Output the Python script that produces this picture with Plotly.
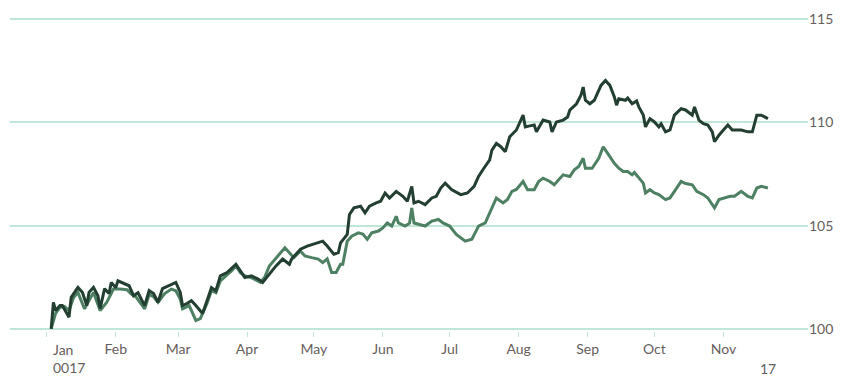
import plotly.graph_objects as go

# Index series (rebased to 100 at start of year)
dates_a = [
    "2017-01-03", "2017-01-04", "2017-01-05", "2017-01-07", "2017-01-08", "2017-01-11", "2017-01-12",
    "2017-01-15", "2017-01-17", "2017-01-19", "2017-01-20", "2017-01-22", "2017-01-24", "2017-01-25",
    "2017-01-27", "2017-01-29", "2017-01-30", "2017-02-01", "2017-02-02", "2017-02-05", "2017-02-07",
    "2017-02-09", "2017-02-11", "2017-02-14", "2017-02-16", "2017-02-18", "2017-02-20", "2017-02-22",
    "2017-02-25", "2017-02-28", "2017-03-02", "2017-03-03", "2017-03-05", "2017-03-07", "2017-03-09",
    "2017-03-12", "2017-03-14", "2017-03-16", "2017-03-18", "2017-03-20", "2017-03-23", "2017-03-27",
    "2017-03-29", "2017-03-31", "2017-04-03", "2017-04-06", "2017-04-08", "2017-04-11", "2017-04-14",
    "2017-04-17", "2017-04-20", "2017-04-21", "2017-04-25", "2017-04-28", "2017-05-01", "2017-05-05",
    "2017-05-07", "2017-05-10", "2017-05-12", "2017-05-13", "2017-05-16", "2017-05-17", "2017-05-19",
    "2017-05-22", "2017-05-24", "2017-05-26", "2017-05-29", "2017-05-31", "2017-06-02", "2017-06-04",
    "2017-06-07", "2017-06-10", "2017-06-12", "2017-06-14", "2017-06-15", "2017-06-17", "2017-06-20",
    "2017-06-23", "2017-06-25", "2017-06-27", "2017-06-29", "2017-07-02", "2017-07-06", "2017-07-09",
    "2017-07-12", "2017-07-14", "2017-07-16", "2017-07-19", "2017-07-20", "2017-07-22", "2017-07-24",
    "2017-07-26", "2017-07-28", "2017-07-31", "2017-08-03", "2017-08-04", "2017-08-06", "2017-08-08",
    "2017-08-09", "2017-08-12", "2017-08-15", "2017-08-16", "2017-08-18", "2017-08-21", "2017-08-23",
    "2017-08-24", "2017-08-27", "2017-08-29", "2017-08-30", "2017-08-31", "2017-09-02", "2017-09-04",
    "2017-09-07", "2017-09-09", "2017-09-11", "2017-09-13", "2017-09-14", "2017-09-15", "2017-09-18",
    "2017-09-19", "2017-09-21", "2017-09-23", "2017-09-24", "2017-09-26", "2017-09-27", "2017-09-29",
    "2017-10-01", "2017-10-03", "2017-10-04", "2017-10-06", "2017-10-08", "2017-10-10", "2017-10-13",
    "2017-10-15", "2017-10-18", "2017-10-19", "2017-10-21", "2017-10-23", "2017-10-25", "2017-10-27",
    "2017-10-28", "2017-10-30", "2017-11-01", "2017-11-03", "2017-11-05", "2017-11-09", "2017-11-12",
    "2017-11-14", "2017-11-16", "2017-11-18", "2017-11-21",
]
values_a = [
    100.00, 101.29, 100.89, 101.13, 101.13, 100.57, 101.53,
    102.01, 101.77, 101.13, 101.77, 102.01, 101.61, 100.99,
    101.95, 101.71, 102.25, 102.00, 102.33, 102.19, 102.09,
    101.61, 101.75, 101.13, 101.85, 101.71, 101.29, 101.95,
    102.09, 102.25, 101.77, 101.13, 101.23, 101.37, 101.13,
    100.75, 101.37, 102.00, 101.85, 102.57, 102.73, 103.13,
    102.81, 102.49, 102.57, 102.41, 102.25, 102.65, 103.05,
    103.38, 103.13, 103.38, 103.86, 104.01, 104.10, 104.25,
    104.01, 103.62, 103.69, 104.17, 104.58, 105.54, 105.86,
    105.94, 105.62, 105.94, 106.10, 106.18, 106.58, 106.34,
    106.66, 106.42, 106.18, 106.90, 106.10, 106.18, 106.02,
    106.34, 106.42, 106.82, 107.06, 106.74, 106.50, 106.58,
    106.90, 107.38, 107.72, 108.18, 108.66, 108.98, 108.82,
    108.58, 109.30, 109.63, 110.35, 109.78, 109.83, 109.87,
    109.54, 110.11, 110.02, 109.54, 110.02, 110.11, 110.26,
    110.59, 110.90, 111.31, 111.71, 111.07, 110.90, 111.07,
    111.79, 112.03, 111.79, 111.23, 110.83, 111.14, 111.07,
    111.18, 110.90, 111.03, 110.75, 110.35, 109.78, 110.18,
    110.02, 109.78, 109.93, 109.54, 109.63, 110.35, 110.66,
    110.60, 110.35, 110.75, 110.11, 109.94, 109.87, 109.54,
    109.06, 109.38, 109.63, 109.87, 109.63, 109.63, 109.54,
    109.54, 110.35, 110.35, 110.18,
]

dates_b = [
    "2017-01-03", "2017-01-05", "2017-01-07", "2017-01-09", "2017-01-11", "2017-01-13", "2017-01-15",
    "2017-01-18", "2017-01-22", "2017-01-25", "2017-01-28", "2017-01-31", "2017-02-03", "2017-02-06",
    "2017-02-08", "2017-02-10", "2017-02-14", "2017-02-16", "2017-02-18", "2017-02-20", "2017-02-23",
    "2017-02-26", "2017-02-28", "2017-03-02", "2017-03-03", "2017-03-06", "2017-03-09", "2017-03-11",
    "2017-03-14", "2017-03-16", "2017-03-18", "2017-03-20", "2017-03-23", "2017-03-25", "2017-03-27",
    "2017-03-29", "2017-03-31", "2017-04-03", "2017-04-07", "2017-04-09", "2017-04-11", "2017-04-14",
    "2017-04-18", "2017-04-20", "2017-04-22", "2017-04-25", "2017-04-27", "2017-04-30", "2017-05-03",
    "2017-05-05", "2017-05-07", "2017-05-09", "2017-05-11", "2017-05-13", "2017-05-14", "2017-05-15",
    "2017-05-16", "2017-05-18", "2017-05-21", "2017-05-23", "2017-05-25", "2017-05-27", "2017-05-30",
    "2017-06-01", "2017-06-03", "2017-06-05", "2017-06-07", "2017-06-08", "2017-06-11", "2017-06-13",
    "2017-06-14", "2017-06-15", "2017-06-18", "2017-06-20", "2017-06-23", "2017-06-26", "2017-06-28",
    "2017-07-01", "2017-07-04", "2017-07-08", "2017-07-11", "2017-07-12", "2017-07-14", "2017-07-17",
    "2017-07-19", "2017-07-20", "2017-07-22", "2017-07-25", "2017-07-27", "2017-07-29", "2017-07-31",
    "2017-08-03", "2017-08-05", "2017-08-08", "2017-08-10", "2017-08-12", "2017-08-15", "2017-08-17",
    "2017-08-19", "2017-08-21", "2017-08-24", "2017-08-26", "2017-08-28", "2017-08-30", "2017-08-31",
    "2017-09-03", "2017-09-06", "2017-09-08", "2017-09-10", "2017-09-13", "2017-09-15", "2017-09-17",
    "2017-09-19", "2017-09-21", "2017-09-22", "2017-09-24", "2017-09-26", "2017-09-27", "2017-09-29",
    "2017-10-01", "2017-10-03", "2017-10-06", "2017-10-08", "2017-10-10", "2017-10-13", "2017-10-15",
    "2017-10-18", "2017-10-20", "2017-10-23", "2017-10-25", "2017-10-28", "2017-10-30", "2017-11-02",
    "2017-11-04", "2017-11-06", "2017-11-09", "2017-11-12", "2017-11-14", "2017-11-16", "2017-11-18",
    "2017-11-21",
]
values_b = [
    100.02, 100.75, 101.05, 101.08, 100.89, 101.51, 101.77,
    100.97, 101.77, 100.89, 101.29, 101.93, 101.93, 101.90,
    101.69, 101.56, 100.97, 101.66, 101.56, 101.29, 101.71,
    101.93, 101.85, 101.45, 100.97, 101.13, 100.41, 100.50,
    101.23, 101.85, 101.75, 102.33, 102.62, 102.81, 103.05,
    102.72, 102.57, 102.48, 102.25, 102.52, 103.05, 103.45,
    103.93, 103.69, 103.45, 103.77, 103.53, 103.45, 103.38,
    103.21, 103.39, 102.73, 102.73, 103.13, 103.13, 103.69,
    104.25, 104.49, 104.65, 104.59, 104.34, 104.65, 104.74,
    104.89, 105.13, 104.98, 105.45, 105.13, 104.98, 105.12,
    105.86, 105.13, 105.06, 104.98, 105.22, 105.30, 105.13,
    104.98, 104.58, 104.25, 104.34, 104.58, 104.98, 105.13,
    105.62, 105.94, 106.34, 106.10, 106.27, 106.66, 106.75,
    107.14, 106.74, 106.74, 107.14, 107.30, 107.14, 106.98,
    107.24, 107.46, 107.38, 107.70, 107.86, 108.26, 107.78,
    107.78, 108.26, 108.82, 108.50, 108.02, 107.78, 107.62,
    107.62, 107.46, 107.57, 107.30, 107.06, 106.58, 106.74,
    106.58, 106.50, 106.26, 106.34, 106.66, 107.14, 107.04,
    106.98, 106.66, 106.50, 106.34, 105.86, 106.26, 106.34,
    106.42, 106.42, 106.66, 106.42, 106.34, 106.82, 106.90,
    106.82,
]

month_ticks = ["2017-01-01", "2017-02-01", "2017-03-01", "2017-04-01", "2017-05-01", "2017-06-01",
               "2017-07-01", "2017-08-01", "2017-09-01", "2017-10-01", "2017-11-01"]
month_labels = ["", "Feb", "Mar", "Apr", "May", "Jun", "Jul", "Aug", "Sep", "Oct", "Nov"]
y_ticks = [100, 105, 110, 115]

DARK = "#223f31"
LIGHT = "#4e8163"
GRID = "#bfe6d6"
TEXT = "#66605c"
FONT = "Lato"

fig = go.Figure()
fig.add_trace(go.Scatter(x=dates_b, y=values_b, mode="lines",
                         line=dict(color=LIGHT, width=3), showlegend=False))
fig.add_trace(go.Scatter(x=dates_a, y=values_a, mode="lines",
                         line=dict(color=DARK, width=3), showlegend=False))

fig.update_layout(
    width=843, height=376,
    margin=dict(l=10, r=31, t=15, b=45),
    paper_bgcolor="white", plot_bgcolor="white",
    font=dict(family=FONT, size=14, color=TEXT),
    xaxis=dict(
        type="date",
        range=["2016-12-15 12:00", "2017-12-09"],
        tickvals=month_ticks, ticktext=month_labels,
        showgrid=False, zeroline=False, showline=False,
        ticks="outside", ticklen=5, tickwidth=1, tickcolor=GRID,
        tickfont=dict(family=FONT, size=14, color=TEXT),
    ),
    yaxis=dict(
        side="right",
        range=[99.9, 115.1],
        tickvals=y_ticks,
        showgrid=True, gridcolor=GRID, gridwidth=1.5,
        zeroline=False, showline=False, ticks="",
        tickfont=dict(family=FONT, size=14, color=TEXT),
    ),
    annotations=[
        dict(x="2017-01-03", y=0, xref="x", yref="paper", xanchor="left", yanchor="top",
             text="Jan<br>0017", align="left", showarrow=False, yshift=-8,
             font=dict(family=FONT, size=14, color=TEXT)),
        dict(x="2017-11-21", y=0, xref="x", yref="paper", xanchor="center", yanchor="top",
             text="17", showarrow=False, yshift=-27,
             font=dict(family=FONT, size=14, color=TEXT)),
    ],
)

fig.write_html("out.html")
